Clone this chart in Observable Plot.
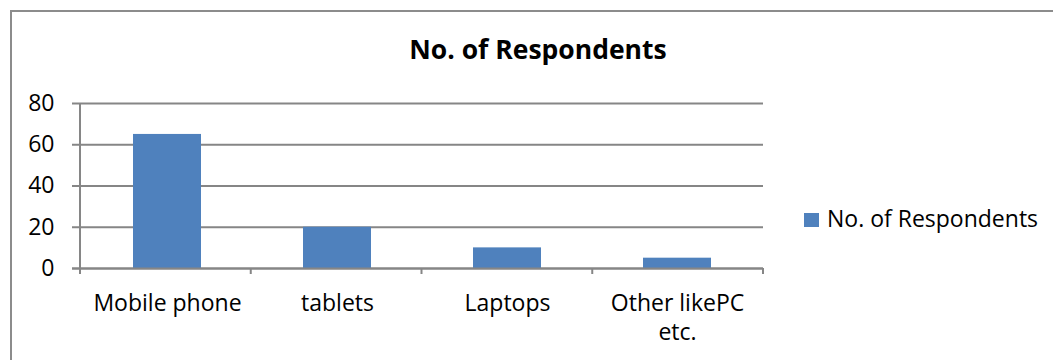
<!DOCTYPE html>
<html>
<head>
<meta charset="utf-8">
<script src="https://cdn.jsdelivr.net/npm/d3@7"></script>
<script src="https://cdn.jsdelivr.net/npm/@observablehq/plot@0.6"></script>
<style>
  html, body { margin: 0; padding: 0; background: #fff; }
  #chart {
    position: relative; width: 1053px; height: 360px; overflow: hidden;
    font-family: "Open Sans", sans-serif; color: #000;
  }
  #chart svg { position: absolute; left: 0; top: 0; }
  .border {
    position: absolute; left: 10px; top: 10px; width: 1100px; height: 400px;
    border: 2px solid #8c8c8c; box-sizing: border-box;
  }
  .title {
    position: absolute; left: 538px; top: 36px; transform: translateX(-50%);
    font-weight: bold; font-size: 26.5px; line-height: 1; white-space: nowrap;
  }
  .legend {
    position: absolute; left: 804px; top: 207px; display: flex; align-items: flex-start;
    font-size: 23px; line-height: 1; white-space: nowrap;
  }
  .legend .swatch { width: 15px; height: 14px; background: #4f81bd; margin-top: 6px; margin-right: 8px; }
</style>
</head>
<body>
<div id="chart">
  <div class="border"></div>
</div>
<script>
// Survey: devices used by respondents
const categories = ["Mobile phone", "tablets", "Laptops", "Other likePC\netc."];
const respondents = [65, 20, 10, 5];
const yTicks = [0, 20, 40, 60, 80];
const seriesName = "No. of Respondents";

const rows = categories.map((c, i) => ({category: c, value: respondents[i]}));
const gray = "#868686";

// Left axis line and category boundary ticks along the baseline
function boundaryTicks(index, scales, values, dimensions) {
  const {width, marginLeft, marginRight} = dimensions;
  const y0 = scales.y(0), yTop = scales.y(d3.max(yTicks));
  const step = (width - marginLeft - marginRight) / categories.length;
  const g = d3.create("svg:g").attr("stroke", gray).attr("stroke-width", 2);
  g.append("line").attr("x1", marginLeft).attr("x2", marginLeft).attr("y1", yTop).attr("y2", y0 + 6);
  for (let i = 1; i <= categories.length; ++i) {
    const x = marginLeft + i * step;
    g.append("line").attr("x1", x).attr("x2", x).attr("y1", y0).attr("y2", y0 + 6);
  }
  return g.node();
}

const plot = Plot.plot({
  width: 1053,
  height: 360,
  marginLeft: 80,
  marginRight: 290,
  marginTop: 103,
  marginBottom: 92,
  style: {fontFamily: "Open Sans, sans-serif", fontSize: "23px", color: "#000", background: "transparent", overflow: "visible"},
  x: {domain: categories, paddingInner: 0.6, paddingOuter: 0.3, label: null},
  y: {domain: [0, 80], label: null},
  marks: [
    // gridlines with short outward ticks on the left
    Plot.ruleY(yTicks, {stroke: gray, strokeWidth: 2, insetLeft: -8}),
    Plot.barY(rows, {x: "category", y: "value", fill: "#4f81bd"}),
    Plot.ruleY([0], {stroke: gray, strokeWidth: 2, insetLeft: -8}),
    Plot.axisY({ticks: yTicks, tickSize: 0, tickPadding: 26, fontSize: 23, fill: "#000"}),
    Plot.axisX({tickSize: 0, tickPadding: 22, fontSize: 23, lineHeight: 1.27, fill: "#000"}),
    boundaryTicks
  ]
});

const chart = document.getElementById("chart");
chart.appendChild(plot);

const title = document.createElement("div");
title.className = "title";
title.textContent = seriesName;
chart.appendChild(title);

const legend = document.createElement("div");
legend.className = "legend";
legend.innerHTML = `<div class="swatch"></div><div></div>`;
legend.lastChild.textContent = seriesName;
chart.appendChild(legend);
</script>
</body>
</html>
